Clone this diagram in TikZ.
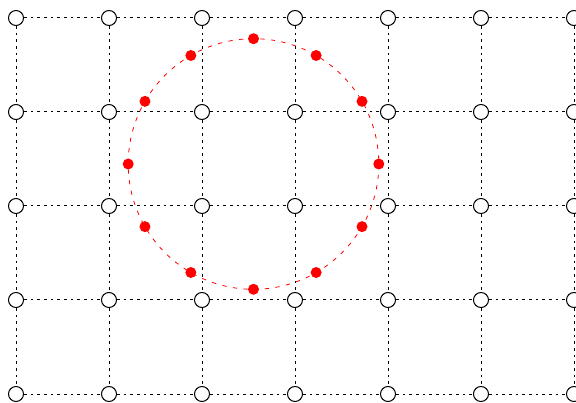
\documentclass[tikz,border=0pt]{standalone}
\usetikzlibrary{calc}
\begin{document}
\begin{tikzpicture}[x=0.75pt,y=-0.75pt,
  gridnode/.style={circle,draw=black,fill=white,line width=0.75pt,minimum size=15*0.75pt,inner sep=0pt},
  gridline/.style={black,line width=0.75pt,dash pattern=on 2pt off 3pt},
  reddot/.style={circle,fill=red,minimum size=11*0.75pt,inner sep=0pt},
  redline/.style={red,line width=0.6pt,dash pattern=on 3.2pt off 4.8pt}]
\useasboundingbox (0,0) rectangle (576,403);
\foreach \i in {0,...,6}{
  \foreach \j in {0,...,4}{
    \node[gridnode] (g-\i-\j) at ({16+93*\i},{18+94*\j}) {};
  }
}
\foreach \i in {0,...,6}{
  \foreach \j [count=\k from 1] in {0,...,3}{
    \draw[gridline] (g-\i-\j) -- (g-\i-\k);
  }
}
\foreach \j in {0,...,4}{
  \foreach \i [count=\k from 1] in {0,...,5}{
    \draw[gridline] (g-\i-\j) -- (g-\k-\j);
  }
}
\coordinate (c) at (253.5,164);
\draw[redline] (c) circle[radius=125.3];
\foreach \a in {0,30,...,330}{
  \node[reddot] (d\a) at ($(c)+(\a:125.3)$) {};
}
\end{tikzpicture}
\end{document}
